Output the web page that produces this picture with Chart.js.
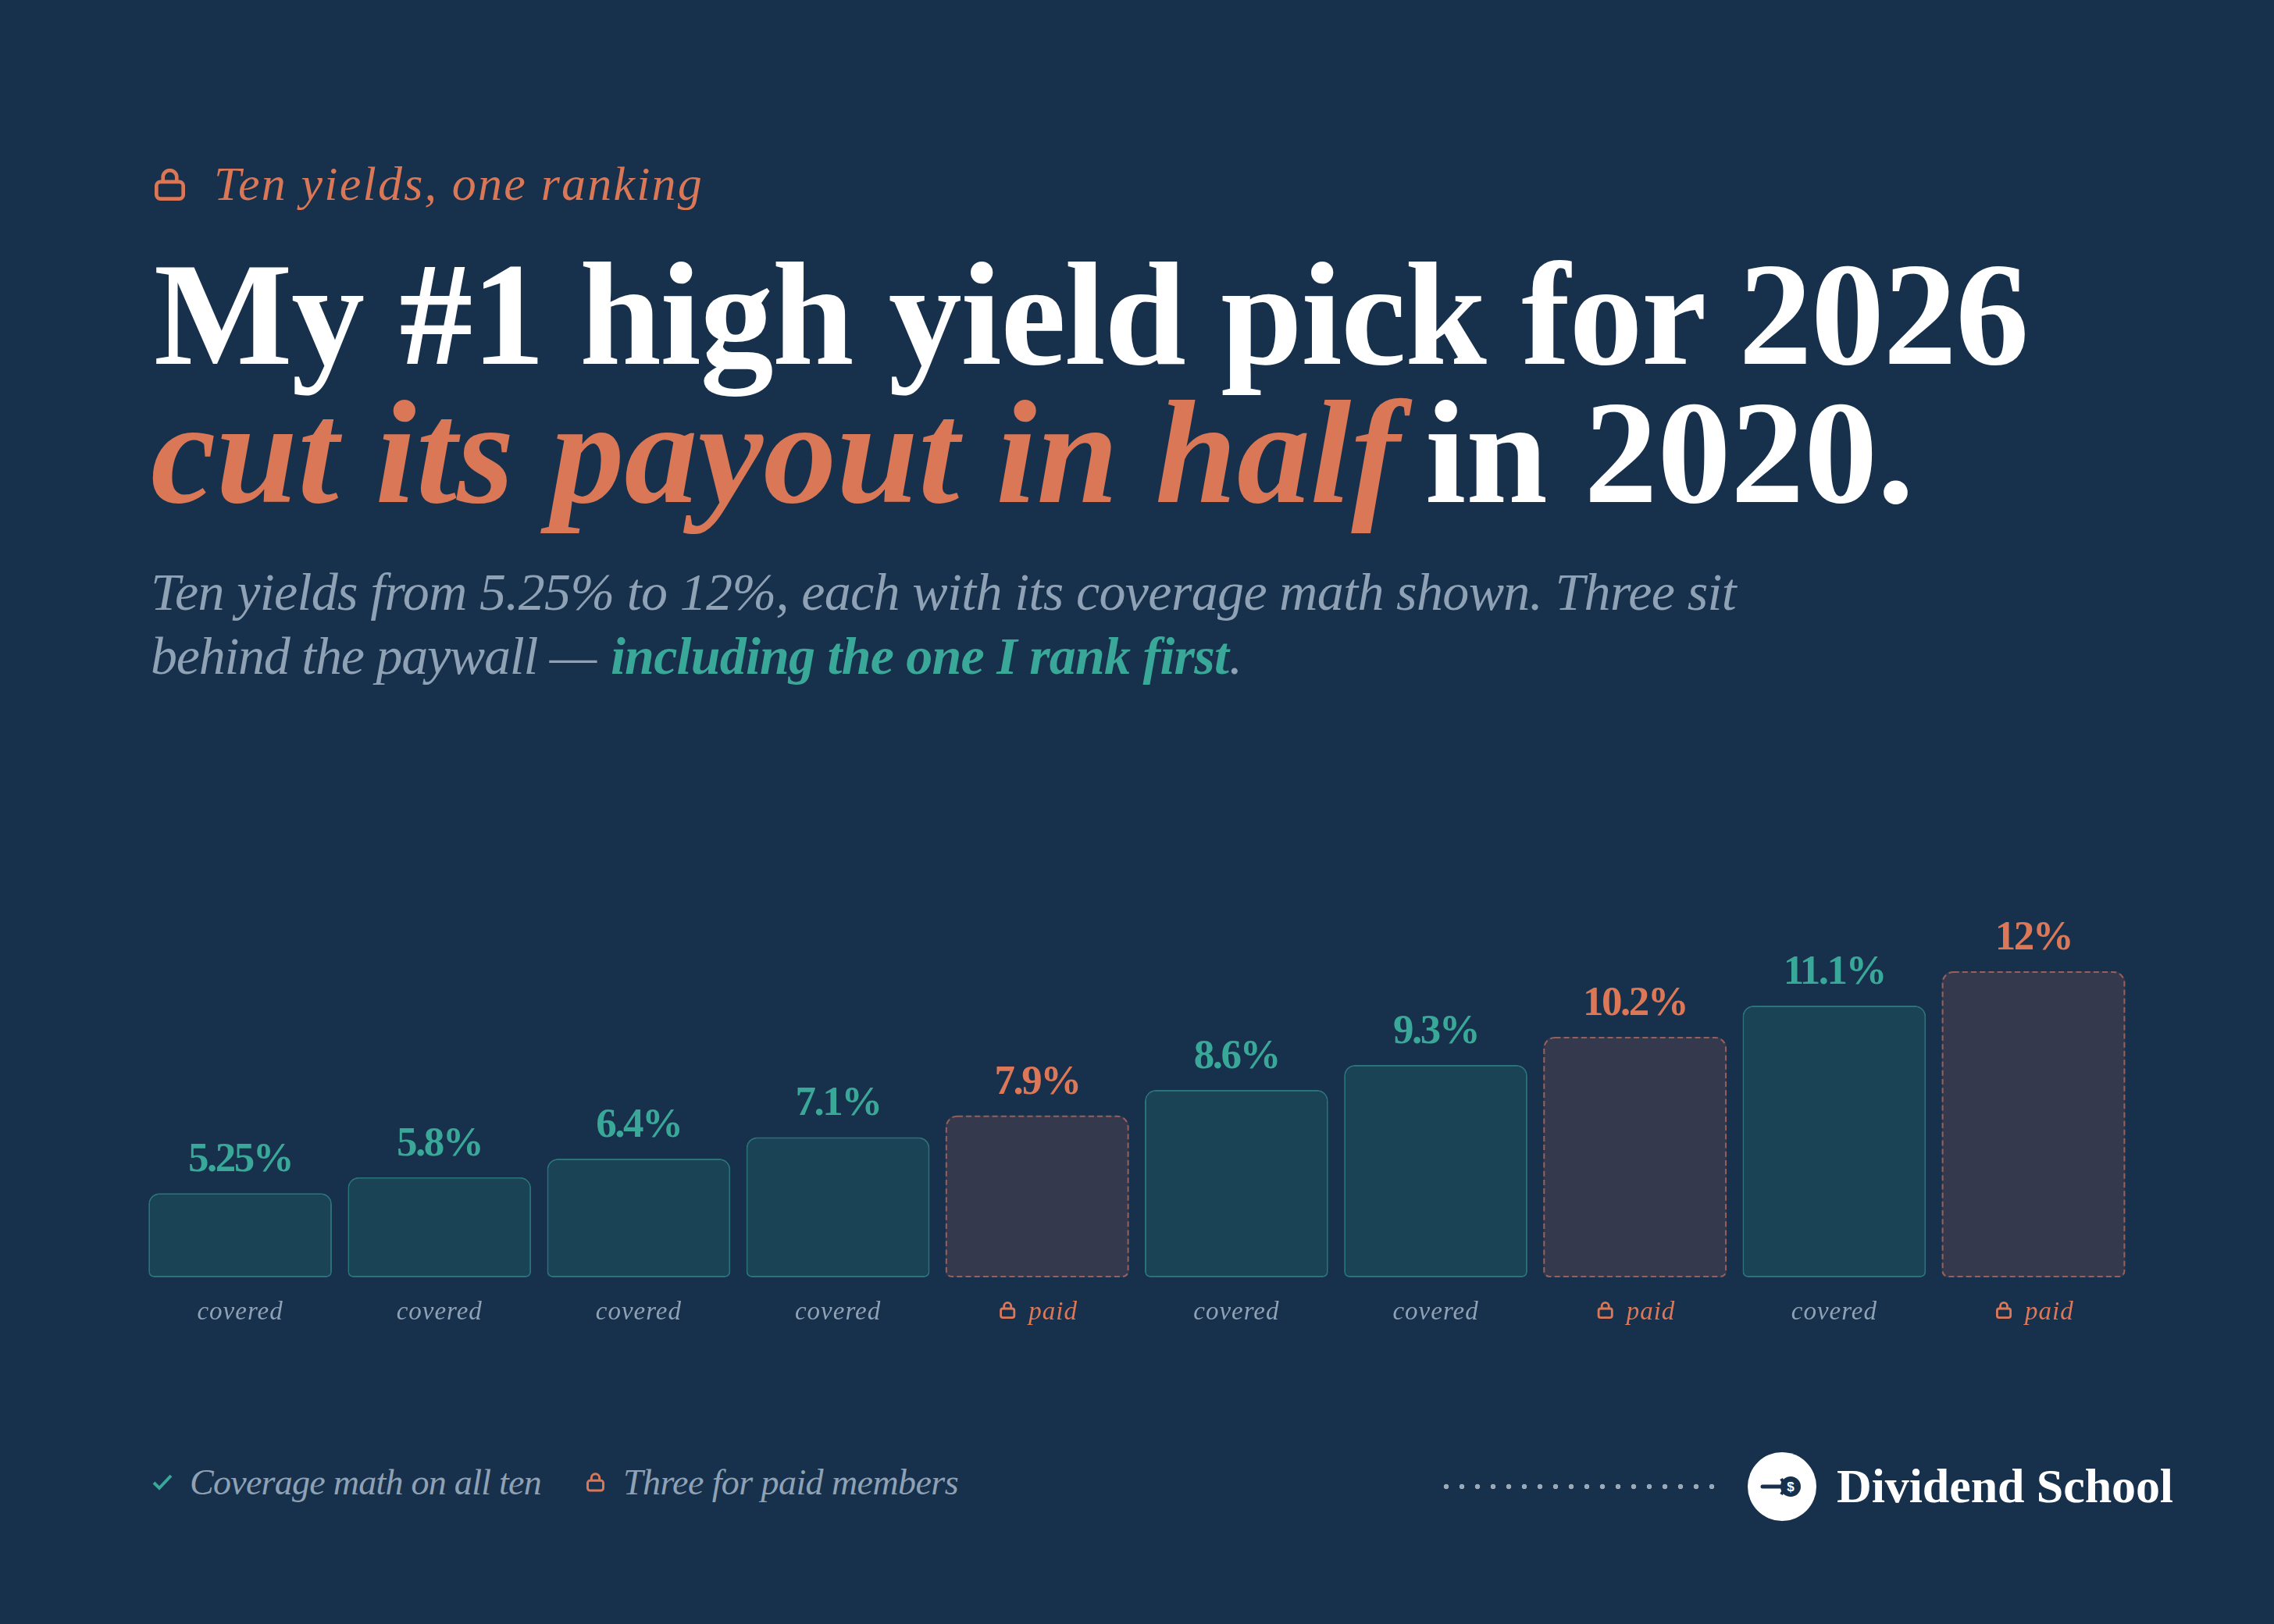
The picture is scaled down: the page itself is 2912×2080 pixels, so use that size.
<!DOCTYPE html>
<html>
<head>
<meta charset="utf-8">
<title>Ten yields, one ranking</title>
<script src="https://cdn.jsdelivr.net/npm/chart.js@4"></script>
<style>
    html, body { margin: 0; background: #17304b; }
    #page { position: relative; width: 2912px; height: 2080px; overflow: hidden; background: #17304b; font-family: "Liberation Serif", serif; }
    .t { position: absolute; white-space: pre; line-height: 1; }
    .i { font-style: italic; }
    .b { font-weight: 700; }
    .coral { color: #d97757; }
    .teal { color: #3aa899; }
    .grey { color: #8fa2b5; }
    .white { color: #fff; }
    svg { position: absolute; }
    #chart { position: absolute; left: 0; top: 1100px; }
    #dots { position: absolute; left: 1842px; top: 1894px; width: 360px; height: 20px;
        background: radial-gradient(circle at center, #9aa9b8 0, #9aa9b8 3px, transparent 3.6px) 0 0 / 20px 20px repeat-x; }
</style>
</head>
<body>
<div id="page">
    <svg style="left:198px;top:216px" width="39" height="41" viewBox="0 0 20 21" fill="none" stroke="#d97757" stroke-width="2.4"><rect x="1.2" y="8.6" width="17.6" height="11.2" rx="2.6"/><path d="M5.5 8.6V5.6a4.5 4.5 0 0 1 9 0v3"/></svg>
    <div class="t i coral" style="font-size:62px" data-x="274" data-base="256" data-w="627">Ten yields, one ranking</div>

    <div class="t b white" style="font-size:188px" data-x="197" data-base="466" data-w="2400">My #1 high yield pick for 2026</div>
    <div class="t b i coral" style="font-size:188px" data-x="193" data-base="643" data-w="1600">cut its payout in half</div>
    <div class="t b white" style="font-size:188px" data-x="1825" data-base="643" data-w="626">in 2020.</div>

    <div class="t i grey" style="font-size:68px" data-x="193" data-base="781" data-w="2030">Ten yields from 5.25% to 12%, each with its coverage math shown. Three sit</div>
    <div class="t i grey" style="font-size:68px" data-x="193" data-base="863" data-w="570">behind the paywall —</div>
    <div class="t i b teal" style="font-size:68px" data-x="782" data-base="863" data-w="791">including the one I rank first</div>
    <div class="t i grey" style="font-size:68px" data-x="1574" data-base="863" data-w="14">.</div>

    <canvas id="chart" width="2912" height="700"></canvas>

    <svg style="left:195px;top:1887px" width="26" height="22" viewBox="0 0 26 22" fill="none" stroke="#3aa899" stroke-width="4"><path d="M2 12l7 7L24 3"/></svg>
    <div class="t i grey" style="font-size:46px" data-x="243" data-base="1915" data-w="450">Coverage math on all ten</div>
    <svg style="left:751px;top:1886px" width="23" height="25" viewBox="0 0 20 21" fill="none" stroke="#d97757" stroke-width="2.6"><rect x="1.3" y="8.6" width="17.4" height="11.1" rx="2.6"/><path d="M5.5 8.6V5.6a4.5 4.5 0 0 1 9 0v3"/></svg>
    <div class="t i grey" style="font-size:46px" data-x="798" data-base="1915" data-w="429">Three for paid members</div>

    <div id="dots"></div>
    <svg style="left:2238px;top:1860px" width="88" height="88" viewBox="0 0 88 88">
        <circle cx="44" cy="44" r="44" fill="#fff"/>
        <path d="M19 44H44" stroke="#17304b" stroke-width="5" stroke-linecap="round"/>
        <path d="M43 34l3 5M43 54l3-5" stroke="#17304b" stroke-width="4"/>
        <circle cx="55" cy="44" r="13" fill="#17304b"/>
        <text x="55" y="50" text-anchor="middle" font-family="Liberation Sans" font-weight="700" font-size="17" fill="#fff">$</text>
    </svg>
    <div class="t b white" style="font-size:62px" data-x="2352" data-base="1924" data-w="431">Dividend School</div>
</div>

<script>
const yields = [5.25, 5.8, 6.4, 7.1, 7.9, 8.6, 9.3, 10.2, 11.1, 12];
const barLevels = [27.5, 32.7, 38.8, 45.8, 52.9, 61.2, 69.4, 78.6, 88.8, 100];
const tiers = ['covered', 'covered', 'covered', 'covered', 'paid', 'covered', 'covered', 'paid', 'covered', 'paid'];

const TEAL = '#3aa899';
const CORAL = '#dc7857';
const GREY = '#8fa2b5';
const SERIF = '"Liberation Serif", serif';

// put every heading line on its baseline and stretch it to the width
document.querySelectorAll('.t').forEach(el => {
    const size = parseFloat(el.style.fontSize);
    el.style.left = el.dataset.x + 'px';
    el.style.top = (el.dataset.base - 0.8375 * size) + 'px';
    const width = el.getBoundingClientRect().width;
    el.style.letterSpacing = ((el.dataset.w - width) / el.textContent.length) + 'px';
});

function drawLock(ctx, x, y) {
    ctx.save();
    ctx.strokeStyle = CORAL;
    ctx.lineWidth = 2.8;
    ctx.beginPath();
    ctx.roundRect(x + 1.4, y + 9, 17.2, 11.6, 2.6);
    ctx.moveTo(x + 5.5, y + 9);
    ctx.lineTo(x + 5.5, y + 5.8);
    ctx.arc(x + 10, y + 5.8, 4.5, Math.PI, 0);
    ctx.lineTo(x + 14.5, y + 9);
    ctx.stroke();
    ctx.restore();
}

const barText = {
    id: 'barText',
    afterDatasetsDraw(chart) {
        const ctx = chart.ctx;
        const bars = chart.getDatasetMeta(0).data;
        const axisY = chart.scales.y.getPixelForValue(0);
        bars.forEach((bar, i) => {
            const paid = tiers[i] === 'paid';
            if (paid) {
                ctx.save();
                ctx.strokeStyle = '#98605a';
                ctx.lineWidth = 2;
                ctx.setLineDash([7, 4.2]);
                ctx.beginPath();
                ctx.roundRect(bar.x - bar.width / 2 + 1, bar.y + 1, bar.width - 2, bar.height - 2, [14, 14, 7, 7]);
                ctx.stroke();
                ctx.restore();
            }
            ctx.save();
            ctx.textAlign = 'center';
            ctx.textBaseline = 'alphabetic';
            ctx.fillStyle = paid ? CORAL : TEAL;
            ctx.font = '700 53px ' + SERIF;
            ctx.letterSpacing = '-2.5px';
            ctx.fillText(yields[i] + '%', bar.x, bar.y - 28);
            ctx.font = 'italic 33px ' + SERIF;
            ctx.letterSpacing = '1px';
            if (paid) {
                ctx.textAlign = 'left';
                ctx.fillText(tiers[i], bar.x - 11, axisY + 54);
                drawLock(ctx, bar.x - 48, axisY + 31);
            } else {
                ctx.fillStyle = GREY;
                ctx.fillText(tiers[i], bar.x, axisY + 54);
            }
            ctx.restore();
        });
    }
};

new Chart(document.getElementById('chart'), {
    type: 'bar',
    data: {
        labels: yields.map(y => y + '%'),
        datasets: [{
            data: barLevels,
            backgroundColor: tiers.map(t => t === 'paid' ? '#35394d' : '#1b4356'),
            borderColor: '#2a7479',
            borderWidth: tiers.map(t => t === 'paid' ? 0 : 2),
            borderSkipped: false,
            borderRadius: { topLeft: 14, topRight: 14, bottomLeft: 7, bottomRight: 7 },
            barPercentage: 0.92,
            categoryPercentage: 1,
        }]
    },
    options: {
        responsive: false,
        animation: false,
        layout: { padding: { left: 180, right: 180.4, top: 144, bottom: 164 } },
        plugins: { legend: { display: false }, tooltip: { enabled: false } },
        scales: {
            x: { display: false },
            y: { display: false, min: 0, max: 100 },
        },
    },
    plugins: [barText],
});
</script>
</body>
</html>
